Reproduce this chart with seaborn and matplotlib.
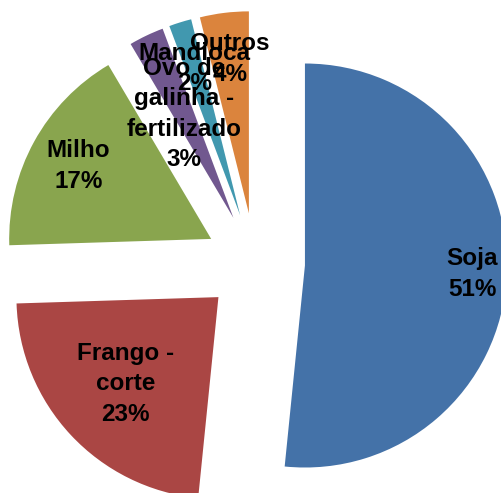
import matplotlib
matplotlib.use("Agg")
import matplotlib.pyplot as plt
import seaborn as sns
import numpy as np

# Data
categories = ["Soja", "Frango -\ncorte", "Milho", "Ovo de\ngalinha -\nfertilizado", "Mandioca", "Outros"]
values = [51.6, 22.9, 17.0, 2.8, 1.8, 3.9]
pct_labels = ["51%", "23%", "17%", "3%", "2%", "4%"]

# Style
colors = sns.color_palette(["#4472A8", "#AA4644", "#89A54E", "#71588F", "#4198AF", "#DB843D"])
label_frac = [0.83, 0.63, 0.75, 0.57, 0.76, 0.77]

sns.set_theme(style="white")
plt.rcParams['font.family'] = ['Liberation Sans Narrow', 'Liberation Sans', 'DejaVu Sans']

fig = plt.figure(figsize=(5.01, 4.93), dpi=100)
ax = fig.add_axes([0, 0, 1, 1])

R = 202
wedges, _ = ax.pie(values, colors=colors, startangle=90, counterclock=False,
                   explode=[50] * len(values), radius=R, center=(255, 230),
                   wedgeprops=dict(linewidth=0))

for w, cat, pct, f in zip(wedges, categories, pct_labels, label_frac):
    mid = np.deg2rad((w.theta1 + w.theta2) / 2)
    cx, cy = w.center
    x = cx + f * w.r * np.cos(mid)
    y = cy + f * w.r * np.sin(mid)
    ax.text(x, y, f"{cat}\n{pct}", ha="center", va="center", fontsize=17.5,
            fontweight="bold", color="black", linespacing=1.42)

ax.set_xlim(0, 501)
ax.set_ylim(0, 493)
ax.set_aspect('equal')
ax.axis('off')

fig.savefig("out.png", dpi=100)
